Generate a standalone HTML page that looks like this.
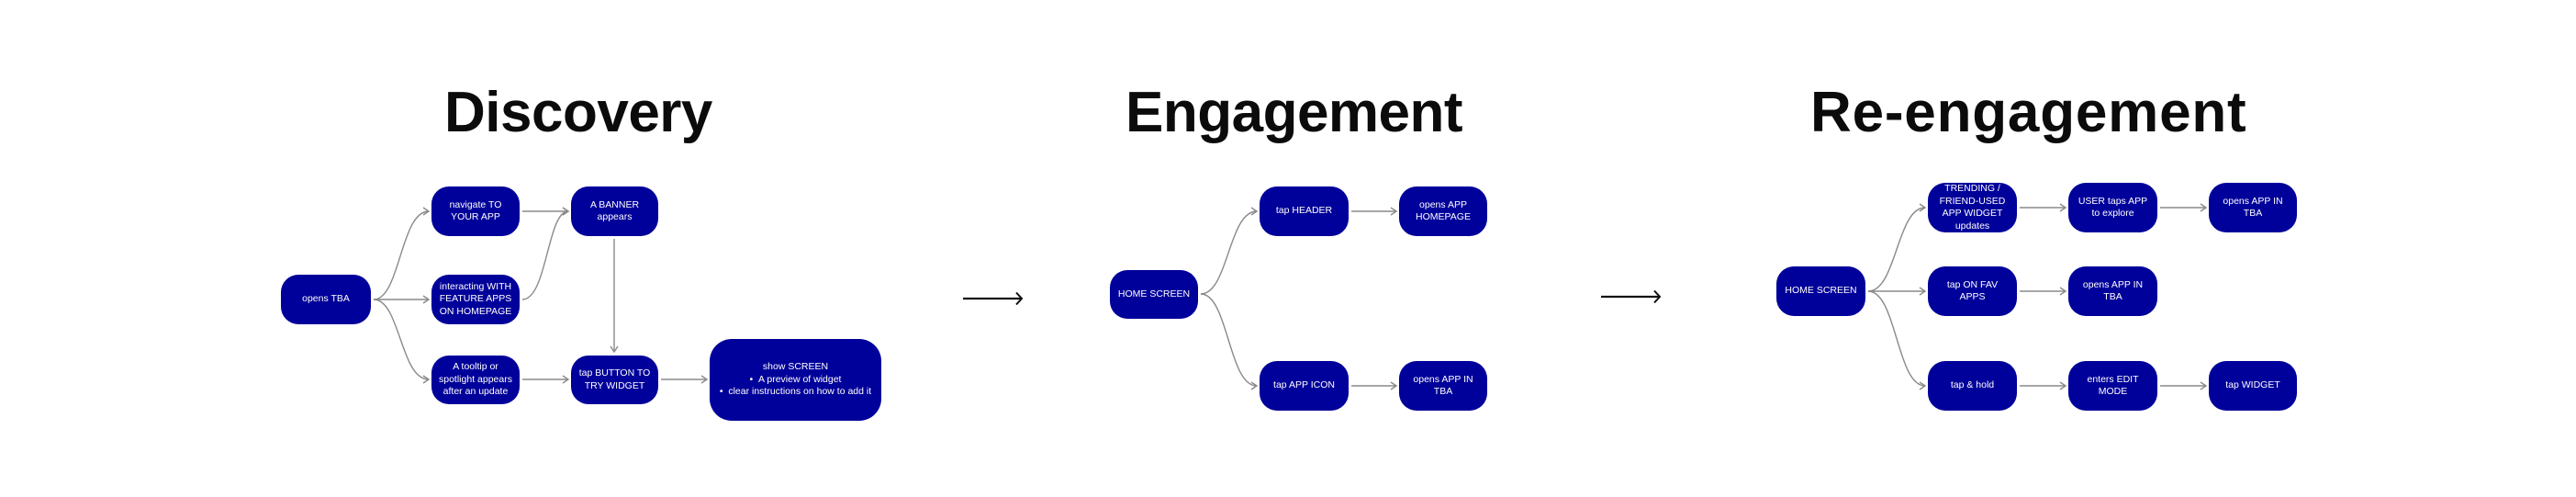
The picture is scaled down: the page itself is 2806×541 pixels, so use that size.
<!DOCTYPE html>
<html><head><meta charset="utf-8"><style>
html,body{margin:0;padding:0;background:#fff;}
body{width:2806px;height:541px;position:relative;overflow:hidden;font-family:"Liberation Sans",sans-serif;}
.t{position:absolute;font-weight:bold;font-size:62px;color:#0b0b0b;line-height:1;letter-spacing:-0.5px;}
.b{position:absolute;background:#00009a;border-radius:19px;color:#fff;font-size:10.5px;line-height:13.5px;display:flex;align-items:center;justify-content:center;text-align:center;box-sizing:border-box;padding:0 6px;}
svg{position:absolute;left:0;top:0;}
</style></head><body>
<div class="t" style="left:484px;top:92px;">Discovery</div>
<div class="t" style="left:1226px;top:92px;">Engagement</div>
<div class="t" style="left:1972px;top:92px;letter-spacing:0.8px;">Re-engagement</div>

<svg width="2806" height="541" fill="none">
<defs><marker id="a" markerWidth="10" markerHeight="10" refX="8" refY="5" orient="auto" markerUnits="userSpaceOnUse"><path d="M2,1 L8,5 L2,9" stroke="#8a8a8a" stroke-width="1.4" fill="none"/></marker>
<marker id="k" markerWidth="14" markerHeight="14" refX="12" refY="7" orient="auto" markerUnits="userSpaceOnUse"><path d="M6,0.5 L12,7 L6,13.5" stroke="#111" stroke-width="2" fill="none"/></marker></defs>
<g stroke="#8a8a8a" stroke-width="1.4" marker-end="url(#a)">
<path d="M407,326 C436,326 436,230 467,230"/>
<path d="M407,326 L467,326"/>
<path d="M407,326 C436,326 436,413 467,413"/>
<path d="M569,326 C596,326 596,230 619,230"/>
<path d="M569,230 L619,230"/>
<path d="M669,260 L669,383"/>
<path d="M569,413 L619,413"/>
<path d="M720,413 L770,413"/>
<path d="M1308,320 C1338,320 1338,230 1369,230"/>
<path d="M1308,320 C1338,320 1338,420 1369,420"/>
<path d="M1472,230 L1521,230"/>
<path d="M1472,420 L1521,420"/>
<path d="M2035,317 C2066,317 2066,226 2097,226"/>
<path d="M2035,317 L2097,317"/>
<path d="M2035,317 C2066,317 2066,420 2097,420"/>
<path d="M2200,226 L2250,226"/>
<path d="M2353,226 L2403,226"/>
<path d="M2200,317 L2250,317"/>
<path d="M2200,420 L2250,420"/>
<path d="M2353,420 L2403,420"/>
</g>
<g stroke="#111" stroke-width="2.2" marker-end="url(#k)">
<path d="M1049,325 L1113,325"/>
<path d="M1744,323 L1808,323"/>
</g>
</svg>

<div class="b" style="left:306px;top:299px;width:98px;height:54px;">opens TBA</div>
<div class="b" style="left:470px;top:203px;width:96px;height:54px;">navigate TO YOUR APP</div>
<div class="b" style="left:470px;top:299px;width:96px;height:54px;">interacting WITH FEATURE APPS ON HOMEPAGE</div>
<div class="b" style="left:470px;top:387px;width:96px;height:53px;">A tooltip or spotlight appears after an update</div>
<div class="b" style="left:622px;top:203px;width:95px;height:54px;">A BANNER appears</div>
<div class="b" style="left:622px;top:387px;width:95px;height:53px;">tap BUTTON TO TRY WIDGET</div>
<div class="b" style="left:773px;top:369px;width:187px;height:89px;border-radius:24px;"><div>show SCREEN<br>• &nbsp;A preview of widget<br>• &nbsp;clear instructions on how to add it</div></div>

<div class="b" style="left:1209px;top:294px;width:96px;height:53px;">HOME SCREEN</div>
<div class="b" style="left:1372px;top:203px;width:97px;height:54px;">tap HEADER</div>
<div class="b" style="left:1524px;top:203px;width:96px;height:54px;">opens APP HOMEPAGE</div>
<div class="b" style="left:1372px;top:393px;width:97px;height:54px;">tap APP ICON</div>
<div class="b" style="left:1524px;top:393px;width:96px;height:54px;">opens APP IN TBA</div>

<div class="b" style="left:1935px;top:290px;width:97px;height:54px;">HOME SCREEN</div>
<div class="b" style="left:2100px;top:199px;width:97px;height:54px;">TRENDING / FRIEND-USED APP WIDGET updates</div>
<div class="b" style="left:2253px;top:199px;width:97px;height:54px;">USER taps APP to explore</div>
<div class="b" style="left:2406px;top:199px;width:96px;height:54px;">opens APP IN TBA</div>
<div class="b" style="left:2100px;top:290px;width:97px;height:54px;">tap ON FAV APPS</div>
<div class="b" style="left:2253px;top:290px;width:97px;height:54px;">opens APP IN TBA</div>
<div class="b" style="left:2100px;top:393px;width:97px;height:54px;">tap &amp; hold</div>
<div class="b" style="left:2253px;top:393px;width:97px;height:54px;">enters EDIT MODE</div>
<div class="b" style="left:2406px;top:393px;width:96px;height:54px;">tap WIDGET</div>
</body></html>
